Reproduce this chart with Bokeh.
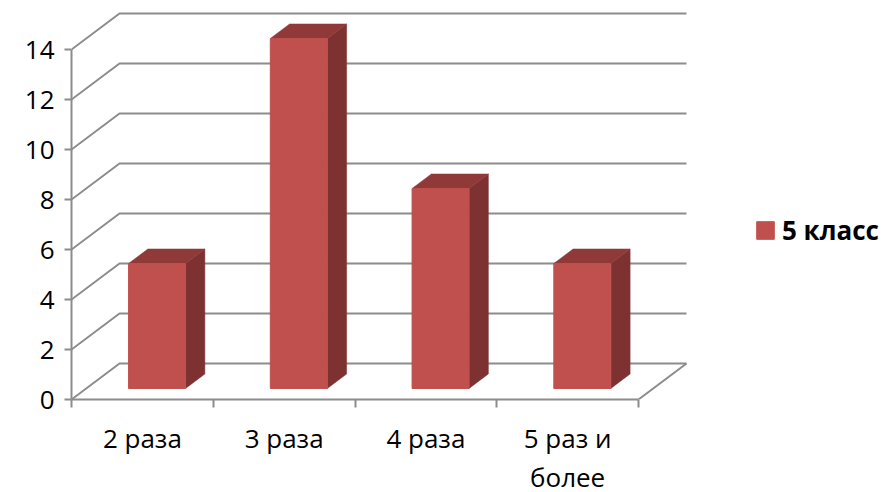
from bokeh.embed import file_html
from bokeh.resources import INLINE
from bokeh.plotting import figure
from bokeh.models import FixedTicker, Legend, LegendItem

# Survey results for the fifth form
categories = ["2 раза", "3 раза", "4 раза", "5 раз и\nболее"]
values = [5, 14, 8, 5]
y_ticks = [0, 2, 4, 6, 8, 10, 12, 14]
series_name = "5 класс"

FONT = "Open Sans"
FONT_SIZE = "26px"
AXIS_GREY = "#8c8c8c"
FRONT = "#c0504d"
SIDE = "#7d3231"
TOP = "#8f3a38"

# Pseudo-3D geometry, in data units
DEPTH_X = 48 / 141.75
DEPTH_Y = 1.44
BAR_DEPTH = 0.306
BAR_WIDTH = 57 / 141.75
BAR_DX = 19.3 / 141.75
BAR_DY = 0.58

p = figure(
    width=884, height=492, frame_width=813, frame_height=399,
    output_backend="svg", toolbar_location=None,
    x_range=(0, 813 / 141.75), y_range=(0, 15.96),
    min_border_left=71, min_border_right=0, min_border_top=0, min_border_bottom=0,
    background_fill_color="white", border_fill_color="white",
)
p.outline_line_color = None
p.grid.visible = False

# Receding wall lines and the floor's right edge
n = len(categories)
p.multi_line(
    xs=[[0, DEPTH_X, n + DEPTH_X] for _ in y_ticks],
    ys=[[t, t + DEPTH_Y, t + DEPTH_Y] for t in y_ticks],
    line_color=AXIS_GREY, line_width=2,
)
p.line([n, n + DEPTH_X], [0, DEPTH_Y], line_color=AXIS_GREY, line_width=2)

# Bars: front face, side and top
centres = [i + 0.5 for i in range(n)]
lefts = [c + BAR_DEPTH * DEPTH_X - BAR_WIDTH / 2 for c in centres]
rights = [l + BAR_WIDTH for l in lefts]
base = BAR_DEPTH * DEPTH_Y
tops = [v + base for v in values]

p.patches(
    xs=[[r, r + BAR_DX, r + BAR_DX, r] for r in rights],
    ys=[[base, base + BAR_DY, t + BAR_DY, t] for t in tops],
    fill_color=SIDE, line_color=SIDE, line_width=0.5,
)
p.patches(
    xs=[[l, l + BAR_DX, r + BAR_DX, r] for l, r in zip(lefts, rights)],
    ys=[[t, t + BAR_DY, t + BAR_DY, t] for t in tops],
    fill_color=TOP, line_color=TOP, line_width=0.5,
)
front = p.quad(
    left=lefts, right=rights, bottom=base, top=tops,
    fill_color=FRONT, line_color=FRONT, line_width=1,
)

# Axes
yaxis = p.yaxis[0]
yaxis.ticker = FixedTicker(ticks=y_ticks)
yaxis.bounds = (0, 14)
yaxis.major_tick_out = 7
yaxis.major_tick_in = 0
yaxis.minor_tick_out = 0
yaxis.minor_tick_in = 0
yaxis.axis_line_color = AXIS_GREY
yaxis.axis_line_width = 2
yaxis.major_tick_line_color = AXIS_GREY
yaxis.major_tick_line_width = 2
yaxis.major_label_standoff = 10
yaxis.major_label_text_font = FONT
yaxis.major_label_text_font_size = FONT_SIZE
yaxis.major_label_text_color = "black"

xaxis = p.xaxis[0]
xaxis.ticker = FixedTicker(ticks=centres, minor_ticks=list(range(n + 1)))
xaxis.major_label_overrides = {c: label for c, label in zip(centres, categories)}
xaxis.bounds = (0, n)
xaxis.major_tick_out = 0
xaxis.major_tick_in = 0
xaxis.minor_tick_out = 8
xaxis.minor_tick_in = 0
xaxis.axis_line_color = AXIS_GREY
xaxis.axis_line_width = 2
xaxis.minor_tick_line_color = AXIS_GREY
xaxis.minor_tick_line_width = 2
xaxis.major_label_standoff = 12
xaxis.major_label_text_font = FONT
xaxis.major_label_text_font_size = FONT_SIZE
xaxis.major_label_text_line_height = 1.085
xaxis.major_label_text_color = "black"

legend = Legend(
    items=[LegendItem(label=series_name, renderers=[front])],
    location=(683, 151), orientation="vertical",
    border_line_color=None, background_fill_alpha=0,
    glyph_width=22, glyph_height=22, padding=0, margin=0, spacing=0,
    label_standoff=6, label_text_font=FONT, label_text_font_size=FONT_SIZE,
    label_text_font_style="bold", label_text_color="black",
)
p.add_layout(legend)

open("out.html", "w").write(file_html(p, INLINE))
